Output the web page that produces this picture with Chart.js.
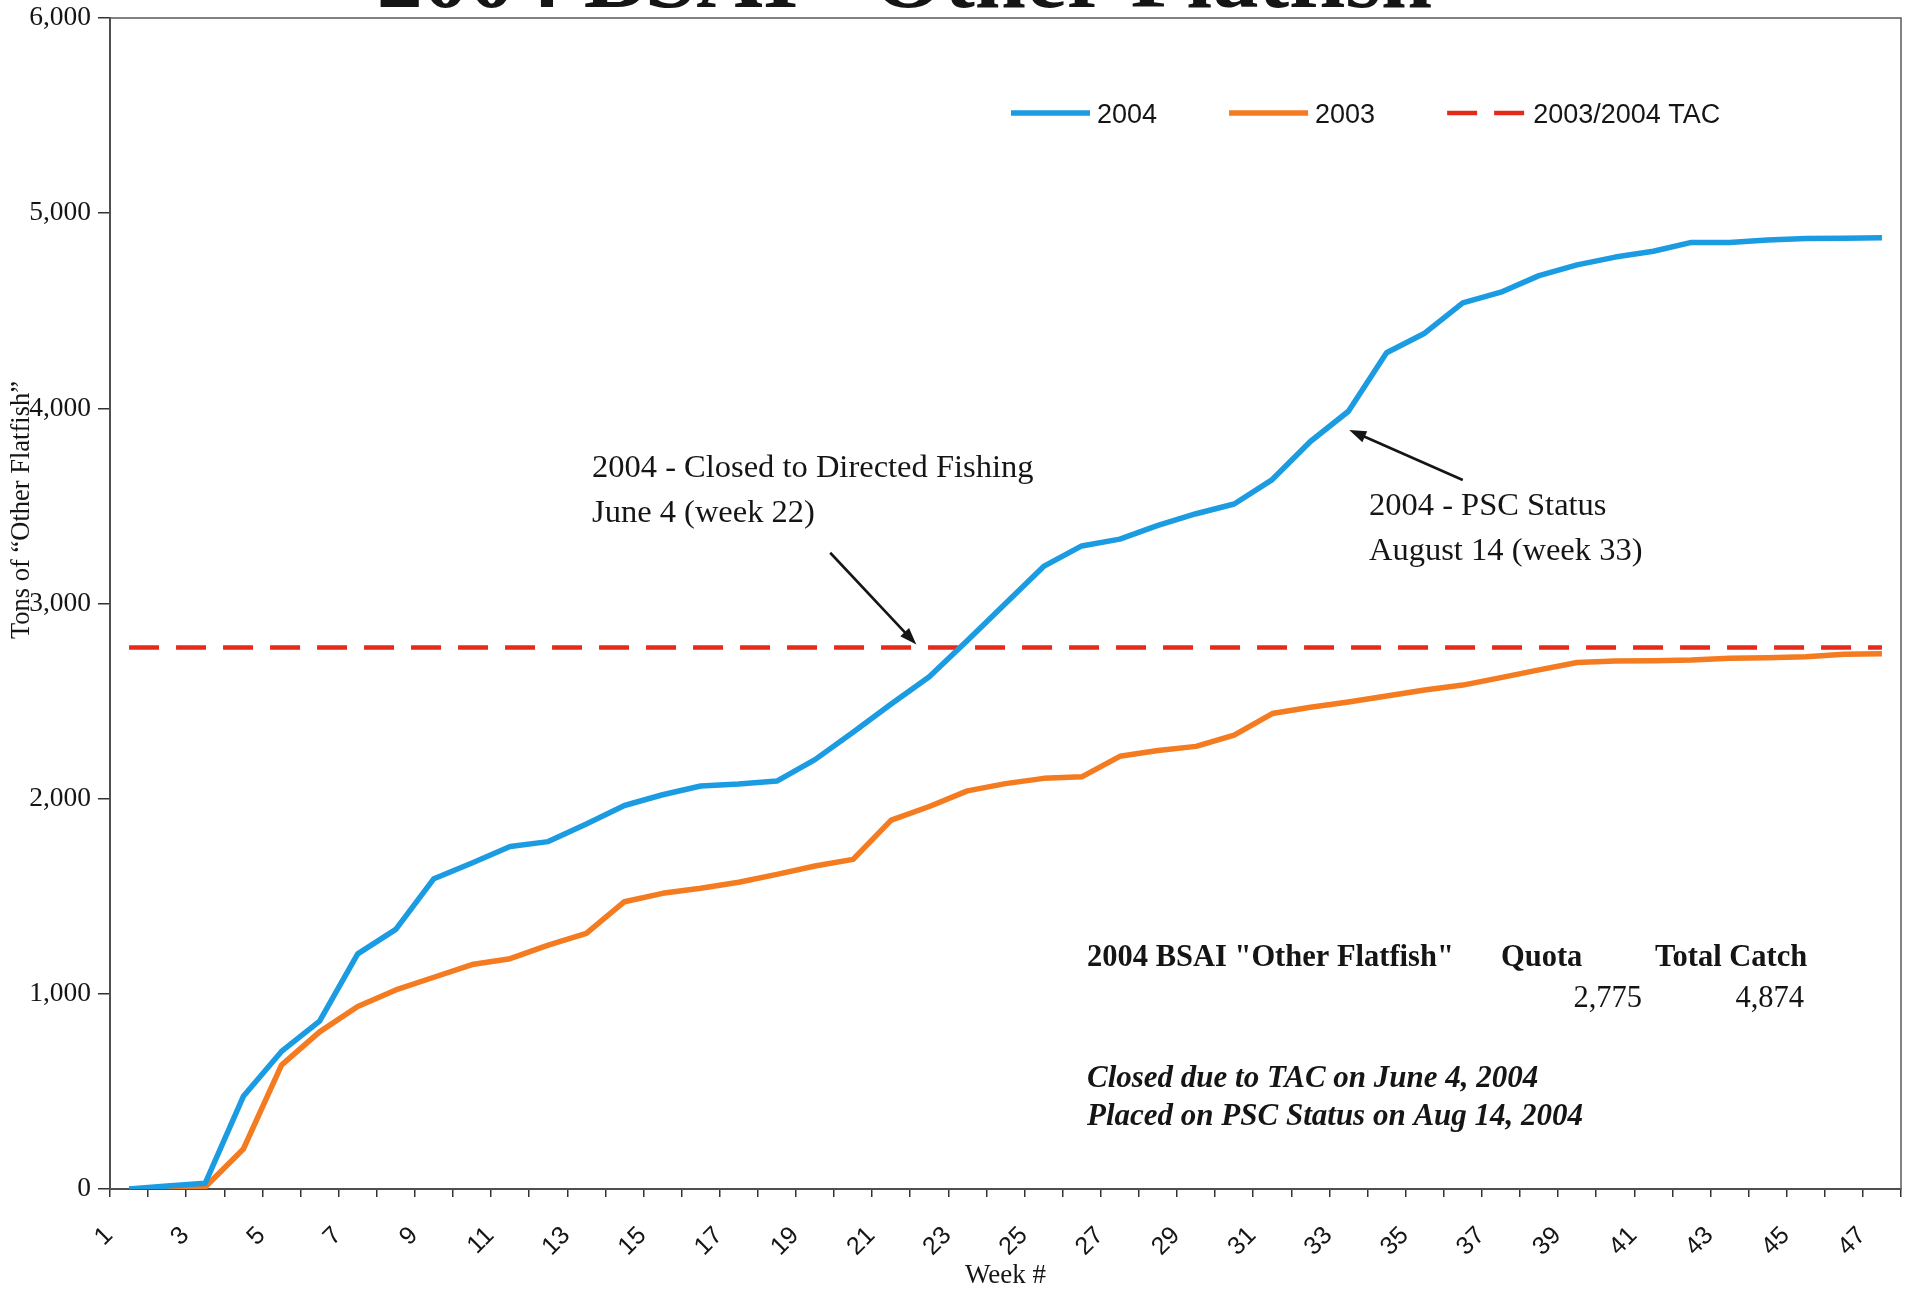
<!DOCTYPE html>
<html>
<head>
<meta charset="utf-8">
<title>2004 BSAI "Other Flatfish"</title>
<script src="https://cdn.jsdelivr.net/npm/chart.js@4.4.1/dist/chart.umd.min.js"></script>
<style>
  html, body { margin: 0; padding: 0; background: #fff; }
  #wrap { width: 1905px; height: 1289px; }
</style>
</head>
<body>
<div id="wrap"><canvas id="flatfishChart" width="1905" height="1289"></canvas></div>
<script>
// Week numbers on the category axis
const weeks = ["1", "2", "3", "4", "5", "6", "7", "8", "9", "10", "11", "12", "13", "14", "15", "16",
  "17", "18", "19", "20", "21", "22", "23", "24", "25", "26", "27", "28", "29", "30", "31", "32",
  "33", "34", "35", "36", "37", "38", "39", "40", "41", "42", "43", "44", "45", "46", "47"];

// Cumulative catch in tons
const catch2004 = [0, 15, 30, 475, 705, 860, 1205, 1330, 1590, 1670, 1755, 1780, 1870, 1965, 2020, 2065,
  2075, 2090, 2200, 2340, 2485, 2625, 2810, 3000, 3190, 3295, 3330, 3400, 3460, 3510, 3635, 3830,
  3985, 4285, 4385, 4540, 4595, 4680, 4735, 4775, 4805, 4850, 4850, 4862, 4870, 4872, 4874];
const catch2003 = [0, 5, 10, 205, 635, 805, 935, 1020, 1085, 1150, 1180, 1250, 1310, 1472, 1515, 1541,
  1572, 1612, 1655, 1689, 1890, 1960, 2040, 2077, 2104, 2112, 2217, 2247, 2268, 2326, 2436, 2468,
  2495, 2526, 2557, 2582, 2620, 2660, 2698, 2705, 2707, 2710, 2719, 2722, 2727, 2740, 2742];

// 2003/2004 TAC (quota), flat across the season
const tacQuota = 2775;
const tacLine = [{ x: "1", y: tacQuota }, { x: "47", y: tacQuota }];

// Y axis range
const yTicks = [0, 1000, 2000, 3000, 4000, 5000, 6000];

// Text in the chart
const chartTitle = '2004 BSAI "Other Flatfish"';
const closedNote = ["2004 - Closed to Directed Fishing", "June 4 (week 22)"];
const pscNote = ["2004 - PSC Status", "August 14 (week 33)"];
const summaryHead = ['2004 BSAI "Other Flatfish"', "Quota", "Total Catch"];
const summaryNotes = ["Closed due to TAC on June 4, 2004", "Placed on PSC Status on Aug 14, 2004"];

// Arrows, in [week, tons]: tail then tip
const closedArrow = [[19.4, 3260], [21.66, 2790]];
const pscArrow = [[36.0, 3633], [33.02, 3889]];

const SERIF = '"Liberation Serif", "Times New Roman", serif';
const SANS = '"Liberation Sans", Arial, sans-serif';
const BLUE = "#1b9ce2";
const ORANGE = "#f47b20";
const RED = "#e62a1a";
const INK = "#151515";

function drawText(ctx, str, x, y, font, align) {
  ctx.font = font;
  ctx.textAlign = align || "left";
  ctx.textBaseline = "alphabetic";
  ctx.fillText(str, x, y);
}

function drawArrow(ctx, x1, y1, x2, y2) {
  const ang = Math.atan2(y2 - y1, x2 - x1);
  const head = 17, half = 6;
  ctx.beginPath();
  ctx.moveTo(x1, y1);
  ctx.lineTo(x2 - head * 0.7 * Math.cos(ang), y2 - head * 0.7 * Math.sin(ang));
  ctx.stroke();
  ctx.beginPath();
  ctx.moveTo(x2, y2);
  ctx.lineTo(x2 - head * Math.cos(ang) + half * Math.sin(ang), y2 - head * Math.sin(ang) - half * Math.cos(ang));
  ctx.lineTo(x2 - head * Math.cos(ang) - half * Math.sin(ang), y2 - head * Math.sin(ang) + half * Math.cos(ang));
  ctx.closePath();
  ctx.fill();
}

// Draws the frame, cut-off title, axis title, legend, notes and the summary box
const decorPlugin = {
  id: "flatfishDecor",
  beforeDatasetsDraw(chart) {
    const { ctx, chartArea: a } = chart;
    ctx.save();
    ctx.strokeStyle = "#5a5a5a";
    ctx.lineWidth = 1.5;
    ctx.strokeRect(a.left, a.top, a.right - a.left, a.bottom - a.top);
    ctx.restore();
  },
  afterDraw(chart) {
    const { ctx, scales: { x, y } } = chart;
    const px = w => x.getPixelForValue(w - 1);
    ctx.save();
    ctx.fillStyle = INK;

    // title, mostly above the page edge
    drawText(ctx, chartTitle, 930, 7, "bold 92px " + SERIF, "center");

    // y axis title
    ctx.save();
    ctx.translate(22, 510);
    ctx.rotate(-Math.PI / 2);
    ctx.font = "26.5px " + SERIF;
    ctx.textAlign = "center";
    ctx.textBaseline = "middle";
    ctx.fillText("Tons of \u201COther Flatfish\u201D", 0, 0);
    ctx.restore();

    // legend
    let lx = 1011;
    const ly = 113;
    chart.data.datasets.forEach(ds => {
      ctx.save();
      ctx.strokeStyle = ds.borderColor;
      ctx.lineWidth = ds.borderWidth;
      ctx.setLineDash(ds.borderDash || []);
      ctx.beginPath();
      ctx.moveTo(lx, ly);
      ctx.lineTo(lx + 79, ly);
      ctx.stroke();
      ctx.restore();
      ctx.font = "27px " + SANS;
      const tw = ctx.measureText(ds.label).width;
      drawText(ctx, ds.label, lx + 86, ly + 10, "27px " + SANS);
      lx += 86 + tw + 72;
    });

    // notes with arrows
    ctx.strokeStyle = INK;
    ctx.lineWidth = 2.6;
    const noteFont = "32.5px " + SERIF;
    drawText(ctx, closedNote[0], 592, 477, noteFont);
    drawText(ctx, closedNote[1], 592, 522, noteFont);
    drawArrow(ctx, px(closedArrow[0][0]), y.getPixelForValue(closedArrow[0][1]),
      px(closedArrow[1][0]), y.getPixelForValue(closedArrow[1][1]));
    drawText(ctx, pscNote[0], 1369, 515, noteFont);
    drawText(ctx, pscNote[1], 1369, 560, noteFont);
    drawArrow(ctx, px(pscArrow[0][0]), y.getPixelForValue(pscArrow[0][1]),
      px(pscArrow[1][0]), y.getPixelForValue(pscArrow[1][1]));

    // summary box
    const bold = "bold 30.5px " + SERIF;
    drawText(ctx, summaryHead[0], 1087, 966, bold);
    drawText(ctx, summaryHead[1], 1501, 966, bold);
    drawText(ctx, summaryHead[2], 1655, 966, bold);
    const total = catch2004[catch2004.length - 1];
    drawText(ctx, tacQuota.toLocaleString("en-US"), 1642, 1007, "30.5px " + SERIF, "right");
    drawText(ctx, total.toLocaleString("en-US"), 1804, 1007, "30.5px " + SERIF, "right");
    drawText(ctx, summaryNotes[0], 1087, 1087, "italic bold 31px " + SERIF);
    drawText(ctx, summaryNotes[1], 1087, 1125, "italic bold 31px " + SERIF);
    ctx.restore();
  }
};

const ctx = document.getElementById("flatfishChart");
if (!ctx) {
  console.error("Chart canvas not found");
} else if (typeof Chart !== "undefined") {
  new Chart(ctx.getContext("2d"), {
    type: "line",
    data: {
      labels: weeks,
      datasets: [
        { label: "2004", data: catch2004, borderColor: BLUE, borderWidth: 5.5, order: 0 },
        { label: "2003", data: catch2003, borderColor: ORANGE, borderWidth: 5.5, order: 1 },
        { label: "2003/2004 TAC", data: tacLine, borderColor: RED, borderWidth: 4.5, borderDash: [30, 17], order: 2 }
      ]
    },
    options: {
      responsive: false,
      devicePixelRatio: 1,
      animation: false,
      layout: { padding: { top: 18, right: 4, bottom: 0, left: 0 } },
      elements: {
        point: { radius: 0, hoverRadius: 0 },
        line: { tension: 0, borderCapStyle: "butt", borderJoinStyle: "round", fill: false }
      },
      plugins: { legend: { display: false }, tooltip: { enabled: false } },
      scales: {
        x: {
          offset: true,
          grid: { offset: true, drawOnChartArea: false, drawTicks: true, tickLength: 8, color: "#333", lineWidth: 1.5 },
          border: { color: "#333", width: 2 },
          ticks: {
            autoSkip: false,
            minRotation: 45,
            maxRotation: 45,
            padding: 24,
            labelOffset: -20,
            color: INK,
            font: { family: SANS, size: 25 },
            callback: function (val, i) {
              return i % 2 === 0 ? this.getLabelForValue(val) : "";
            }
          },
          title: {
            display: true,
            text: "Week #",
            color: INK,
            font: { family: SERIF, size: 27, lineHeight: 1 },
            padding: { top: 0, bottom: 0 }
          },
          afterFit: s => { s.height = 100; s.paddingLeft = 0; s.paddingRight = 0; }
        },
        y: {
          min: yTicks[0],
          max: yTicks[yTicks.length - 1],
          afterBuildTicks: s => { s.ticks = yTicks.map(v => ({ value: v })); },
          grid: { drawOnChartArea: false, drawTicks: true, tickLength: 12, color: "#333", lineWidth: 1.5 },
          border: { color: "#333", width: 2 },
          ticks: {
            padding: 7,
            color: INK,
            font: { family: SERIF, size: 27.5 },
            callback: v => v.toLocaleString("en-US")
          },
          afterFit: s => { s.width = 110; s.paddingTop = 0; s.paddingBottom = 0; }
        }
      }
    },
    plugins: [decorPlugin]
  });
} else {
  console.warn("Chart.js is not loaded; skipping chart");
}
</script>
</body>
</html>
